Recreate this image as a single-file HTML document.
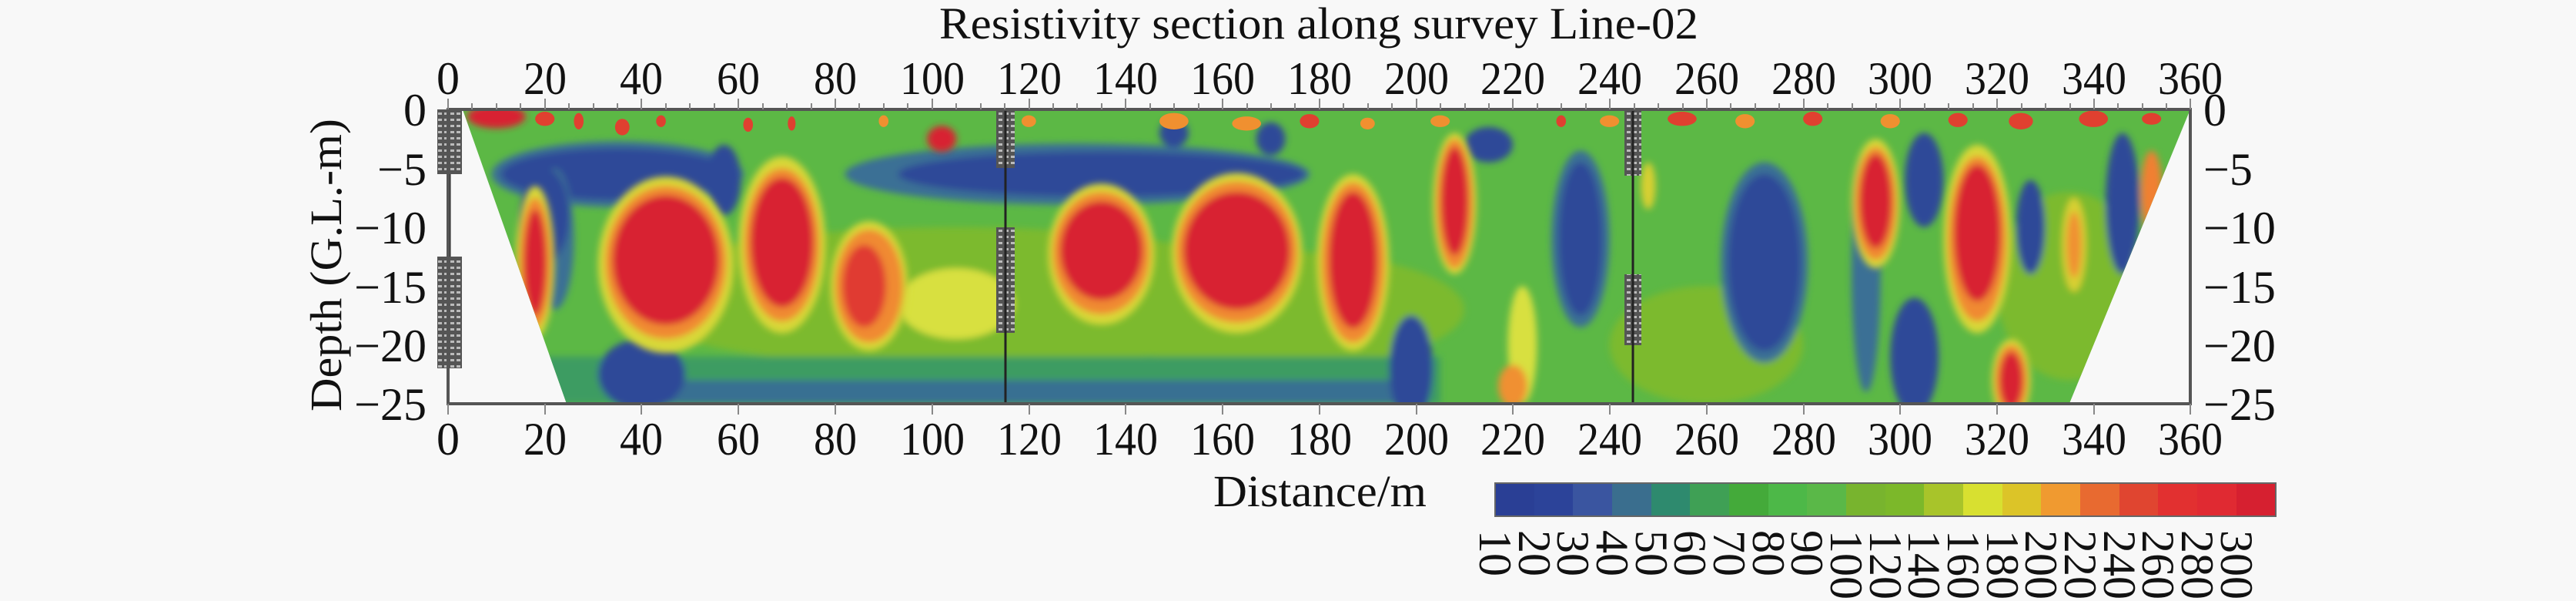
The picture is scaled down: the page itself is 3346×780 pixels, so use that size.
<!DOCTYPE html>
<html><head><meta charset="utf-8"><style>
html,body{margin:0;padding:0;background:#f8f8f8;}
svg{display:block;}
text{font-family:"Liberation Serif",serif;fill:#111;}
</style></head><body>
<svg width="3346" height="780" viewBox="0 0 3346 780" xmlns="http://www.w3.org/2000/svg">
<defs>
<clipPath id="trap"><polygon points="3,0 360,0 335,25 24.5,25"/></clipPath>
<filter id="bl" x="-20%" y="-20%" width="140%" height="140%"><feGaussianBlur stdDeviation="0.7 0.28"/></filter>
<pattern id="hatch" width="8" height="8" patternUnits="userSpaceOnUse"><rect width="8" height="8" fill="#555"/><rect x="1" y="2" width="5" height="3" fill="#bbb"/></pattern>
</defs>
<rect width="3346" height="780" fill="#f8f8f8"/>
<text x="1220" y="50" font-size="58" textLength="986" lengthAdjust="spacingAndGlyphs">Resistivity section along survey Line-02</text>

<g transform="translate(582,142) scale(6.286,15.28)">
<g clip-path="url(#trap)">
<rect x="0" y="0" width="360" height="25" fill="#5cb845"/>
<g filter="url(#bl)">
<ellipse cx="105" cy="16" rx="70" ry="6" fill="#7cba2e"/>
<ellipse cx="170" cy="17" rx="40" ry="5" fill="#7cba2e"/>
<ellipse cx="335" cy="15" rx="15" ry="8" fill="#7cba2e"/>
<ellipse cx="260" cy="20" rx="20" ry="5" fill="#7cba2e"/>
<rect x="20" y="21" width="185" height="4" fill="#3d9c62"/>
<rect x="40" y="23" width="160" height="2" fill="#386f92"/>
<ellipse cx="35" cy="5.5" rx="26" ry="2.8" fill="#3a6f95"/>
<ellipse cx="35" cy="5.5" rx="24" ry="2.2" fill="#2d4898"/>
<ellipse cx="22" cy="11" rx="4" ry="6" fill="#3a6f95"/>
<ellipse cx="130" cy="5.5" rx="48" ry="2.6" fill="#3a6f95"/>
<ellipse cx="135" cy="5.5" rx="42" ry="1.9" fill="#2d4898"/>
<ellipse cx="57" cy="6" rx="3.5" ry="3" fill="#2d4898"/>
<ellipse cx="40" cy="22.5" rx="9" ry="3" fill="#2d4898"/>
<ellipse cx="20" cy="9" rx="5" ry="4" fill="#2d4898"/>
<ellipse cx="150" cy="2" rx="3" ry="1.2" fill="#2d4898"/>
<ellipse cx="170" cy="2.5" rx="3" ry="1.4" fill="#2d4898"/>
<ellipse cx="234" cy="11" rx="6" ry="7.5" fill="#3a6f95"/>
<ellipse cx="234" cy="11" rx="4.5" ry="6.5" fill="#2d4898"/>
<ellipse cx="272" cy="13" rx="9" ry="8.5" fill="#3a6f95"/>
<ellipse cx="272" cy="13" rx="7.5" ry="7.5" fill="#2d4898"/>
<ellipse cx="305" cy="6" rx="4" ry="4" fill="#2d4898"/>
<ellipse cx="303" cy="21" rx="5" ry="5" fill="#2d4898"/>
<ellipse cx="293" cy="14" rx="3" ry="10" fill="#3a6f95"/>
<ellipse cx="327" cy="10" rx="3" ry="4" fill="#2d4898"/>
<ellipse cx="346" cy="8" rx="3.5" ry="6" fill="#2d4898"/>
<ellipse cx="199" cy="22" rx="4.5" ry="4.5" fill="#2d4898"/>
<ellipse cx="215" cy="3" rx="5" ry="1.5" fill="#2d4898"/>
<ellipse cx="105" cy="16.5" rx="12" ry="3" fill="#d8e040"/>
<ellipse cx="222" cy="20" rx="3" ry="5" fill="#d8e040"/>
<ellipse cx="220" cy="23.5" rx="3" ry="1.8" fill="#f09030"/>
<ellipse cx="336" cy="11.5" rx="2.5" ry="4" fill="#d8d030"/>
<ellipse cx="336" cy="11.5" rx="1.5" ry="2.8" fill="#f09030"/>
<ellipse cx="352" cy="7" rx="2.2" ry="3.5" fill="#f08030"/>
<ellipse cx="248" cy="6.5" rx="1.5" ry="2" fill="#d8d030"/>
</g>
<g filter="url(#bl)">
<g fill="#d8d838">
<ellipse cx="45" cy="13.2" rx="14" ry="7.5"/><ellipse cx="69" cy="11.5" rx="9" ry="7.5"/><ellipse cx="87" cy="15" rx="8" ry="5.5"/>
<ellipse cx="18" cy="13" rx="4" ry="6.5"/><ellipse cx="135" cy="12.3" rx="11" ry="6"/><ellipse cx="163" cy="12.2" rx="13.5" ry="6.8"/>
<ellipse cx="187" cy="13" rx="7.5" ry="7.5"/><ellipse cx="208" cy="8" rx="4.5" ry="6"/><ellipse cx="295" cy="8" rx="5" ry="5.5"/>
<ellipse cx="316" cy="11" rx="7" ry="8"/><ellipse cx="323" cy="23" rx="4" ry="3.5"/>
</g>
<g fill="#f08a30">
<ellipse cx="45" cy="13" rx="12.5" ry="6.5"/><ellipse cx="69" cy="11.5" rx="7.8" ry="6.5"/><ellipse cx="87" cy="15" rx="7" ry="4.8"/>
<ellipse cx="18" cy="13" rx="3.3" ry="5.5"/><ellipse cx="135" cy="12.2" rx="10" ry="5.2"/><ellipse cx="163" cy="12.1" rx="12.5" ry="6"/>
<ellipse cx="187" cy="13" rx="6.5" ry="6.8"/><ellipse cx="208" cy="8" rx="3.8" ry="5.5"/><ellipse cx="295" cy="8" rx="4.3" ry="4.8"/>
<ellipse cx="316" cy="11" rx="6" ry="7"/><ellipse cx="323" cy="23" rx="3.3" ry="3"/>
</g>
<g fill="#d82030">
<ellipse cx="45" cy="12.8" rx="11" ry="5.5"/><ellipse cx="69" cy="11.3" rx="6.5" ry="5.5"/><ellipse cx="86" cy="15" rx="4.5" ry="3.5" fill="#e03a30"/>
<ellipse cx="18" cy="13" rx="2.3" ry="4.5"/><ellipse cx="135" cy="12" rx="8.5" ry="4.2"/><ellipse cx="163" cy="12" rx="11" ry="5"/>
<ellipse cx="187" cy="12.8" rx="5" ry="5.8"/><ellipse cx="208" cy="7.8" rx="2.8" ry="4.6"/><ellipse cx="295" cy="7.8" rx="3.3" ry="4"/>
<ellipse cx="316" cy="10.5" rx="4.8" ry="5.8"/><ellipse cx="323" cy="23" rx="2.4" ry="2.4"/>
<ellipse cx="102" cy="2.5" rx="3" ry="1.1"/><ellipse cx="10" cy="0.6" rx="6" ry="1"/>
</g>
</g>
<g fill="#e04030">
<ellipse cx="20" cy="0.8" rx="2" ry="0.6"/><ellipse cx="27" cy="1" rx="1" ry="0.7"/><ellipse cx="36" cy="1.5" rx="1.5" ry="0.7"/><ellipse cx="44" cy="1" rx="1" ry="0.5"/>
<ellipse cx="62" cy="1.3" rx="1" ry="0.6"/><ellipse cx="71" cy="1.2" rx="0.8" ry="0.6"/><ellipse cx="150" cy="1" rx="3" ry="0.7" fill="#f09030"/><ellipse cx="165" cy="1.2" rx="3" ry="0.6" fill="#f09030"/>
<ellipse cx="178" cy="1" rx="2" ry="0.6"/><ellipse cx="205" cy="1" rx="2" ry="0.5" fill="#f09030"/><ellipse cx="230" cy="1" rx="1" ry="0.5"/>
<ellipse cx="255" cy="0.8" rx="3" ry="0.6"/><ellipse cx="268" cy="1" rx="2" ry="0.6" fill="#f09030"/><ellipse cx="282" cy="0.8" rx="2" ry="0.6"/>
<ellipse cx="298" cy="1" rx="2" ry="0.6" fill="#f09030"/><ellipse cx="312" cy="0.9" rx="2" ry="0.6"/><ellipse cx="325" cy="1" rx="2.5" ry="0.7"/>
<ellipse cx="340" cy="0.8" rx="3" ry="0.7"/><ellipse cx="352" cy="0.8" rx="2" ry="0.5"/>
<ellipse cx="120" cy="1" rx="1.5" ry="0.5" fill="#f09030"/><ellipse cx="90" cy="1" rx="1" ry="0.5" fill="#f09030"/><ellipse cx="190" cy="1.2" rx="1.5" ry="0.5" fill="#f09030"/><ellipse cx="240" cy="1" rx="2" ry="0.5" fill="#f09030"/>
</g>
</g>
</g>
<!-- logs -->
<g>
<rect x="568" y="142" width="32" height="84" fill="url(#hatch)"/>
<rect x="568" y="333" width="32" height="145" fill="url(#hatch)"/>
<line x1="584" y1="226" x2="584" y2="333" stroke="#333" stroke-width="3"/>
<rect x="1294" y="142" width="24" height="76" fill="url(#hatch)"/>
<rect x="1294" y="295" width="24" height="137" fill="url(#hatch)"/>
<line x1="1306" y1="142" x2="1306" y2="524" stroke="#222" stroke-width="3"/>
<rect x="2110" y="142" width="22" height="86" fill="url(#hatch)"/>
<rect x="2110" y="356" width="22" height="92" fill="url(#hatch)"/>
<line x1="2121" y1="142" x2="2121" y2="524" stroke="#222" stroke-width="3"/>
</g>
<rect x="582" y="142" width="2263" height="382" fill="none" stroke="#555" stroke-width="4"/>
<g stroke="#888" stroke-width="2">
<path d="M582,142v-14M613,142v-8M645,142v-8M676,142v-8M708,142v-14M739,142v-8M771,142v-8M802,142v-8M833,142v-14M865,142v-8M896,142v-8M928,142v-8M959,142v-14M991,142v-8M1022,142v-8M1054,142v-8M1085,142v-14M1116,142v-8M1148,142v-8M1179,142v-8M1211,142v-14M1242,142v-8M1274,142v-8M1305,142v-8M1337,142v-14M1368,142v-8M1399,142v-8M1431,142v-8M1462,142v-14M1494,142v-8M1525,142v-8M1557,142v-8M1588,142v-14M1620,142v-8M1651,142v-8M1682,142v-8M1714,142v-14M1745,142v-8M1777,142v-8M1808,142v-8M1840,142v-14M1871,142v-8M1903,142v-8M1934,142v-8M1965,142v-14M1997,142v-8M2028,142v-8M2060,142v-8M2091,142v-14M2123,142v-8M2154,142v-8M2186,142v-8M2217,142v-14M2248,142v-8M2280,142v-8M2311,142v-8M2343,142v-14M2374,142v-8M2406,142v-8M2437,142v-8M2468,142v-14M2500,142v-8M2531,142v-8M2563,142v-8M2594,142v-14M2626,142v-8M2657,142v-8M2689,142v-8M2720,142v-14M2751,142v-8M2783,142v-8M2814,142v-8M2845,142v-14"/>
<path d="M582,524v14M708,524v14M833,524v14M959,524v14M1085,524v14M1211,524v14M1337,524v14M1462,524v14M1588,524v14M1714,524v14M1840,524v14M1965,524v14M2091,524v14M2217,524v14M2343,524v14M2468,524v14M2594,524v14M2720,524v14M2845,524v14"/>
</g>
<g font-size="60" text-anchor="middle">
<text x="582" y="122">0</text><text x="708" y="122" textLength="56" lengthAdjust="spacingAndGlyphs">20</text><text x="833" y="122" textLength="56" lengthAdjust="spacingAndGlyphs">40</text><text x="959" y="122" textLength="56" lengthAdjust="spacingAndGlyphs">60</text><text x="1085" y="122" textLength="56" lengthAdjust="spacingAndGlyphs">80</text>
<text x="1211" y="122" textLength="84" lengthAdjust="spacingAndGlyphs">100</text><text x="1337" y="122" textLength="84" lengthAdjust="spacingAndGlyphs">120</text><text x="1462" y="122" textLength="84" lengthAdjust="spacingAndGlyphs">140</text><text x="1588" y="122" textLength="84" lengthAdjust="spacingAndGlyphs">160</text><text x="1714" y="122" textLength="84" lengthAdjust="spacingAndGlyphs">180</text><text x="1840" y="122" textLength="84" lengthAdjust="spacingAndGlyphs">200</text><text x="1965" y="122" textLength="84" lengthAdjust="spacingAndGlyphs">220</text><text x="2091" y="122" textLength="84" lengthAdjust="spacingAndGlyphs">240</text><text x="2217" y="122" textLength="84" lengthAdjust="spacingAndGlyphs">260</text><text x="2343" y="122" textLength="84" lengthAdjust="spacingAndGlyphs">280</text><text x="2468" y="122" textLength="84" lengthAdjust="spacingAndGlyphs">300</text><text x="2594" y="122" textLength="84" lengthAdjust="spacingAndGlyphs">320</text><text x="2720" y="122" textLength="84" lengthAdjust="spacingAndGlyphs">340</text><text x="2845" y="122" textLength="84" lengthAdjust="spacingAndGlyphs">360</text>
<text x="582" y="590">0</text><text x="708" y="590" textLength="56" lengthAdjust="spacingAndGlyphs">20</text><text x="833" y="590" textLength="56" lengthAdjust="spacingAndGlyphs">40</text><text x="959" y="590" textLength="56" lengthAdjust="spacingAndGlyphs">60</text><text x="1085" y="590" textLength="56" lengthAdjust="spacingAndGlyphs">80</text>
<text x="1211" y="590" textLength="84" lengthAdjust="spacingAndGlyphs">100</text><text x="1337" y="590" textLength="84" lengthAdjust="spacingAndGlyphs">120</text><text x="1462" y="590" textLength="84" lengthAdjust="spacingAndGlyphs">140</text><text x="1588" y="590" textLength="84" lengthAdjust="spacingAndGlyphs">160</text><text x="1714" y="590" textLength="84" lengthAdjust="spacingAndGlyphs">180</text><text x="1840" y="590" textLength="84" lengthAdjust="spacingAndGlyphs">200</text><text x="1965" y="590" textLength="84" lengthAdjust="spacingAndGlyphs">220</text><text x="2091" y="590" textLength="84" lengthAdjust="spacingAndGlyphs">240</text><text x="2217" y="590" textLength="84" lengthAdjust="spacingAndGlyphs">260</text><text x="2343" y="590" textLength="84" lengthAdjust="spacingAndGlyphs">280</text><text x="2468" y="590" textLength="84" lengthAdjust="spacingAndGlyphs">300</text><text x="2594" y="590" textLength="84" lengthAdjust="spacingAndGlyphs">320</text><text x="2720" y="590" textLength="84" lengthAdjust="spacingAndGlyphs">340</text><text x="2845" y="590" textLength="84" lengthAdjust="spacingAndGlyphs">360</text>
</g>
<g font-size="60" text-anchor="end">
<text x="554" y="163">0</text><text x="554" y="240">−5</text><text x="554" y="316">−10</text><text x="554" y="393">−15</text><text x="554" y="469">−20</text><text x="554" y="545">−25</text>
</g>
<g font-size="60" text-anchor="start">
<text x="2862" y="163">0</text><text x="2862" y="240">−5</text><text x="2862" y="316">−10</text><text x="2862" y="393">−15</text><text x="2862" y="469">−20</text><text x="2862" y="545">−25</text>
</g>
<text transform="translate(443,344) rotate(-90)" font-size="58" text-anchor="middle" textLength="380" lengthAdjust="spacingAndGlyphs">Depth (G.L.-m)</text>
<text x="1576" y="657" font-size="58" textLength="277" lengthAdjust="spacingAndGlyphs">Distance/m</text>
<g>
<rect x="1942" y="627" width="51" height="43" fill="#2a3f95"/><rect x="1993" y="627" width="51" height="43" fill="#2c4399"/><rect x="2043" y="627" width="51" height="43" fill="#3a55a0"/><rect x="2094" y="627" width="51" height="43" fill="#3a6e8e"/><rect x="2145" y="627" width="51" height="43" fill="#2e8a6e"/>
<rect x="2195" y="627" width="51" height="43" fill="#3fa055"/><rect x="2246" y="627" width="51" height="43" fill="#44aa3a"/><rect x="2297" y="627" width="51" height="43" fill="#4db848"/><rect x="2347" y="627" width="51" height="43" fill="#5ab848"/><rect x="2398" y="627" width="51" height="43" fill="#78b42e"/>
<rect x="2449" y="627" width="51" height="43" fill="#7cb82a"/><rect x="2499" y="627" width="51" height="43" fill="#a8c42a"/><rect x="2550" y="627" width="51" height="43" fill="#d8e030"/><rect x="2601" y="627" width="51" height="43" fill="#dcc428"/><rect x="2651" y="627" width="51" height="43" fill="#f09a30"/>
<rect x="2702" y="627" width="51" height="43" fill="#e86a30"/><rect x="2753" y="627" width="51" height="43" fill="#e04530"/><rect x="2803" y="627" width="51" height="43" fill="#e23030"/><rect x="2854" y="627" width="51" height="43" fill="#e02a32"/><rect x="2905" y="627" width="51" height="43" fill="#d62030"/>
<rect x="1942" y="627" width="1014" height="43" fill="none" stroke="#666" stroke-width="2"/>
</g>
<g font-size="60">
<text transform="translate(1922,688) rotate(90)">10</text><text transform="translate(1973,688) rotate(90)">20</text><text transform="translate(2023,688) rotate(90)">30</text><text transform="translate(2074,688) rotate(90)">40</text><text transform="translate(2125,688) rotate(90)">50</text>
<text transform="translate(2175,688) rotate(90)">60</text><text transform="translate(2226,688) rotate(90)">70</text><text transform="translate(2277,688) rotate(90)">80</text><text transform="translate(2327,688) rotate(90)">90</text><text transform="translate(2378,688) rotate(90)">100</text>
<text transform="translate(2429,688) rotate(90)">120</text><text transform="translate(2479,688) rotate(90)">140</text><text transform="translate(2530,688) rotate(90)">160</text><text transform="translate(2581,688) rotate(90)">180</text><text transform="translate(2631,688) rotate(90)">200</text>
<text transform="translate(2682,688) rotate(90)">220</text><text transform="translate(2733,688) rotate(90)">240</text><text transform="translate(2783,688) rotate(90)">260</text><text transform="translate(2834,688) rotate(90)">280</text><text transform="translate(2885,688) rotate(90)">300</text>
</g>
</svg>
</body></html>
